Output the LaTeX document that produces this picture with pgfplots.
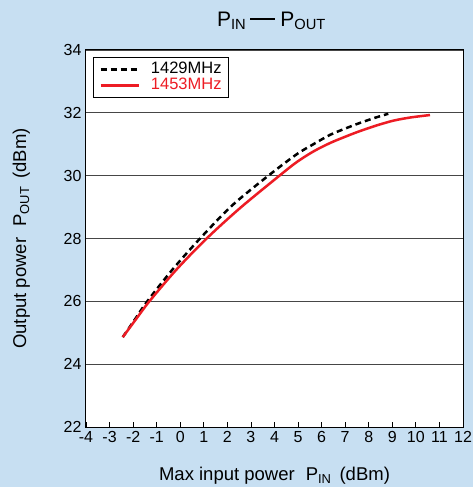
\documentclass[border=0pt]{standalone}
\usepackage{fontspec}
\setmainfont{Liberation Sans}
\usepackage{pgfplots}
\pgfplotsset{compat=1.18}
\definecolor{bgblue}{RGB}{199,223,242}
\definecolor{myred}{RGB}{237,28,36}
\definecolor{gridgray}{RGB}{70,70,70}
\begin{document}
\begin{tikzpicture}[x=1pt,y=1pt]
\fill[bgblue] (-86,-60) rectangle (387,427);
\begin{axis}[at={(0,0)}, anchor=south west, scale only axis,
  width=377pt, height=377pt,
  xmin=-4, xmax=12, ymin=22, ymax=34,
  xtick={-4,...,12}, ytick={22,24,...,34},
  axis background/.style={fill=white},
  ymajorgrids, grid style={gridgray, line width=0.9pt},
  axis line style={line width=1pt},
  tick align=inside, xtick pos=bottom, ytick pos=left,
  major tick length=5pt,
  xtick style={black, line width=0.8pt},
  ytick style={draw=none},
  /pgf/number format/assume math mode=true,
  tick label style={font=\fontsize{16}{18}\selectfont},
  xticklabel style={yshift=-1pt},
  yticklabel style={xshift=-1pt},
  xlabel={Max input power\hspace{11pt}P\textsubscript{IN}\hspace{8pt}(dBm)},
  ylabel={Output power\hspace{11pt}P\textsubscript{OUT}\hspace{8pt}(dBm)},
  label style={font=\fontsize{18.5}{20}\selectfont, inner sep=0pt},
  xlabel style={at={(axis description cs:0.5,-0.1425)}, anchor=base},
  ylabel style={at={(axis description cs:-0.159,0.5)}, anchor=base, rotate=0},
  title={P\textsubscript{IN}\hspace{4pt}\rule[7pt]{25pt}{1.4pt}\hspace{5pt}P\textsubscript{OUT}},
  title style={at={(axis description cs:0.492,1.046)}, anchor=base, font=\fontsize{21}{24}\selectfont},
  legend style={at={(axis description cs:0.0186,0.9814)}, anchor=north west,
    draw=black, line width=0.8pt, font=\fontsize{16.5}{17}\selectfont,
    inner xsep=6pt, inner ysep=4pt, row sep=0pt,
    nodes={inner sep=1pt, text height=11pt, text depth=3pt},
    cells={anchor=west}},
  legend image code/.code={\draw[#1] (0pt,0pt) -- (38pt,0pt);},
]
\addplot[black, line width=2.5pt, dash pattern=on 6pt off 4pt, smooth] coordinates {
  (-2.44,24.86) (-1.92,25.43) (-1.40,26) (-0.32,27.02) (0.84,28) (2.2,29.05)
  (3.74,30) (4.94,30.68) (5.65,31.0) (6.36,31.3) (7.07,31.52) (7.63,31.68)
  (8.34,31.86) (8.83,31.97)
};
\addlegendentry{\hspace{10pt}1429MHz}
\addplot[myred, line width=2.5pt, smooth] coordinates {
  (-2.44,24.86) (-1.85,25.46) (-1.31,26) (-0.15,27.02) (1.12,28) (2.54,28.97)
  (4.21,30) (4.94,30.43) (5.65,30.77) (6.36,31.04) (7.07,31.26) (7.63,31.42)
  (8.34,31.6) (9.04,31.75) (9.75,31.85) (10.6,31.93)
};
\addlegendentry{\hspace{10pt}\textcolor{myred}{1453MHz}}
\end{axis}
\pgfresetboundingbox
\path (-86,-60) rectangle (387,427);
\end{tikzpicture}
\end{document}
